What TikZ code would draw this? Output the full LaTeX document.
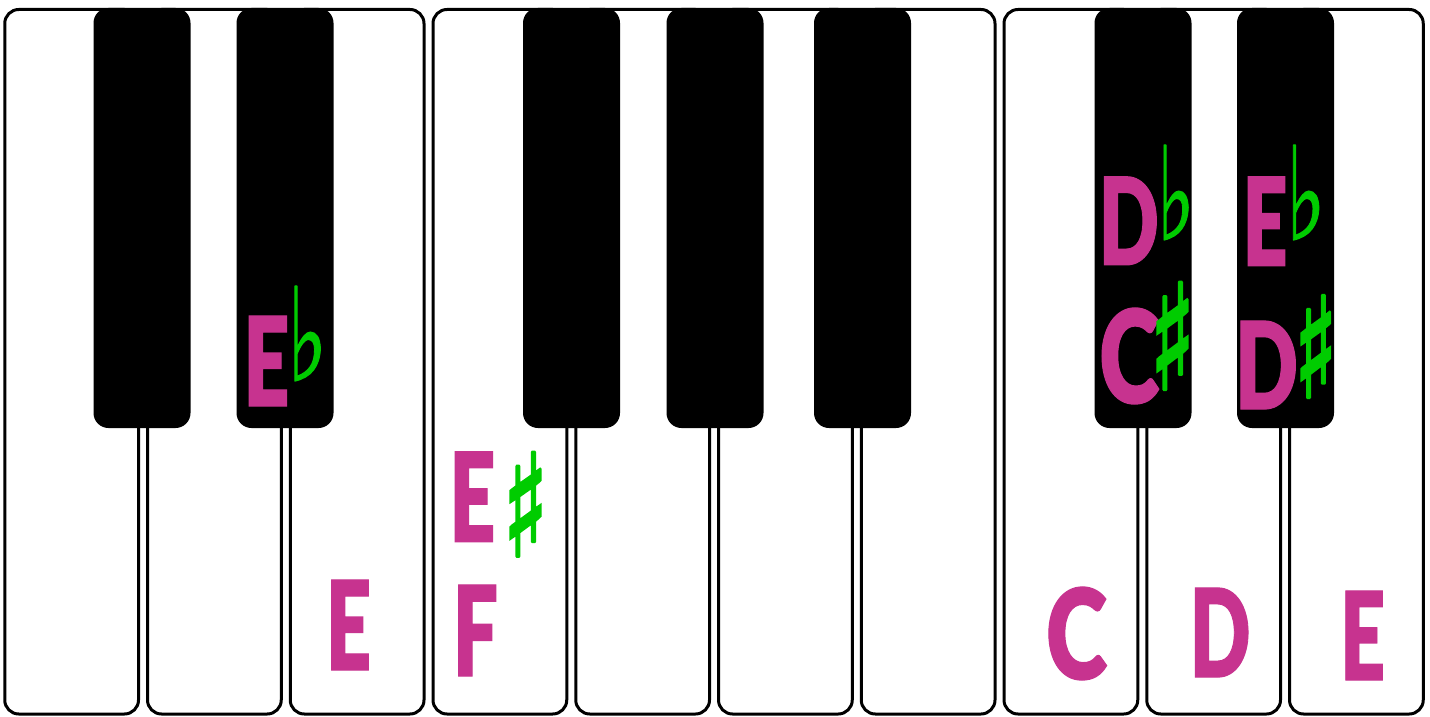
\documentclass[tikz,border=0pt]{standalone}
\usepackage{fontspec}
\usepackage{graphicx}
\IfFontExistsTF{Lato Black}{\newfontfamily\heavyfont{Lato Black}[FakeBold=1]}{\newfontfamily\heavyfont{DejaVu Sans Bold}}
\newfontfamily\symfont{DejaVu Sans}[FakeBold=1]
\newfontfamily\symboldfont{DejaVu Sans}[FakeBold=3]
\definecolor{notepink}{RGB}{199,51,143}
\definecolor{accgreen}{RGB}{0,204,0}
\newcommand\fitto[3]{\resizebox*{#1pt}{#2pt}{#3}}
\begin{document}
\begin{tikzpicture}[x=1pt,y=-1pt,
  whitekey/.style={draw=black, line width=3pt, fill=white, rounded corners=14pt,
    minimum width=133.75pt, minimum height=704.5pt, inner sep=0pt, outer sep=0pt},
  blackkey/.style={fill=black, rounded corners=15pt, minimum width=97pt,
    minimum height=420pt, inner sep=0pt, outer sep=0pt},
  note/.style={text=notepink, inner sep=0pt, outer sep=0pt, font=\heavyfont},
  acc/.style={text=accgreen, inner sep=0pt, outer sep=0pt, font=\symfont},
  sharpacc/.style={text=accgreen, inner sep=0pt, outer sep=0pt, font=\symboldfont}]
\useasboundingbox (0,0) rectangle (1430,717);
\fill[white] (0,0) rectangle (1430,717);
% white keys
\foreach \i in {0,...,9}{
  \node[whitekey] (w\i) at ({71.625+142.75*\i},361.75) {};
}
% black keys
\foreach \n/\x in {0/142,1/285,2/571.5,3/715,4/862.5,5/1143,6/1285.5}{
  \node[blackkey] (b\n) at (\x,218) {};
}
% labels group 1
\node[note] (eb1) at (266.5,361) {\fitto{46}{90}{E}};
\node[acc] (fl1) at (307.3,333.5) {\fitto{40}{95}{♭}};
\node[note] (e1) at (348.5,625) {\fitto{45}{90}{E}};
% group 2
\node[note] (es) at (472.5,496.7) {\fitto{46}{90}{E}};
\node[sharpacc] (sh1) at (525.5,504.2) {\fitto{45}{103}{♯}};
\node[note] (f1) at (475.5,630.5) {\fitto{45}{91}{F}};
% group 3 black keys
\node[note] (db) at (1128.8,220.8) {\fitto{60}{88}{D}};
\node[acc] (fl2) at (1175.8,192.5) {\fitto{38}{95}{♭}};
\node[note] (eb2) at (1265,221.3) {\fitto{45}{89}{E}};
\node[acc] (fl3) at (1305.8,192.5) {\fitto{40}{95}{♭}};
\node[note] (cs) at (1129.2,356) {\fitto{60}{96}{C}};
\node[sharpacc] (sh2) at (1172.5,335.8) {\fitto{45}{106}{♯}};
\node[note] (ds) at (1266.5,365) {\fitto{63}{88}{D}};
\node[sharpacc] (sh3) at (1315.8,346.5) {\fitto{43}{101}{♯}};
% group 3 white keys
\node[note] (c2) at (1076.5,633.5) {\fitto{61}{93}{C}};
\node[note] (d2) at (1220,632.5) {\fitto{61}{89}{D}};
\node[note] (e2) at (1362.7,635.5) {\fitto{45}{89}{E}};
\end{tikzpicture}
\end{document}
